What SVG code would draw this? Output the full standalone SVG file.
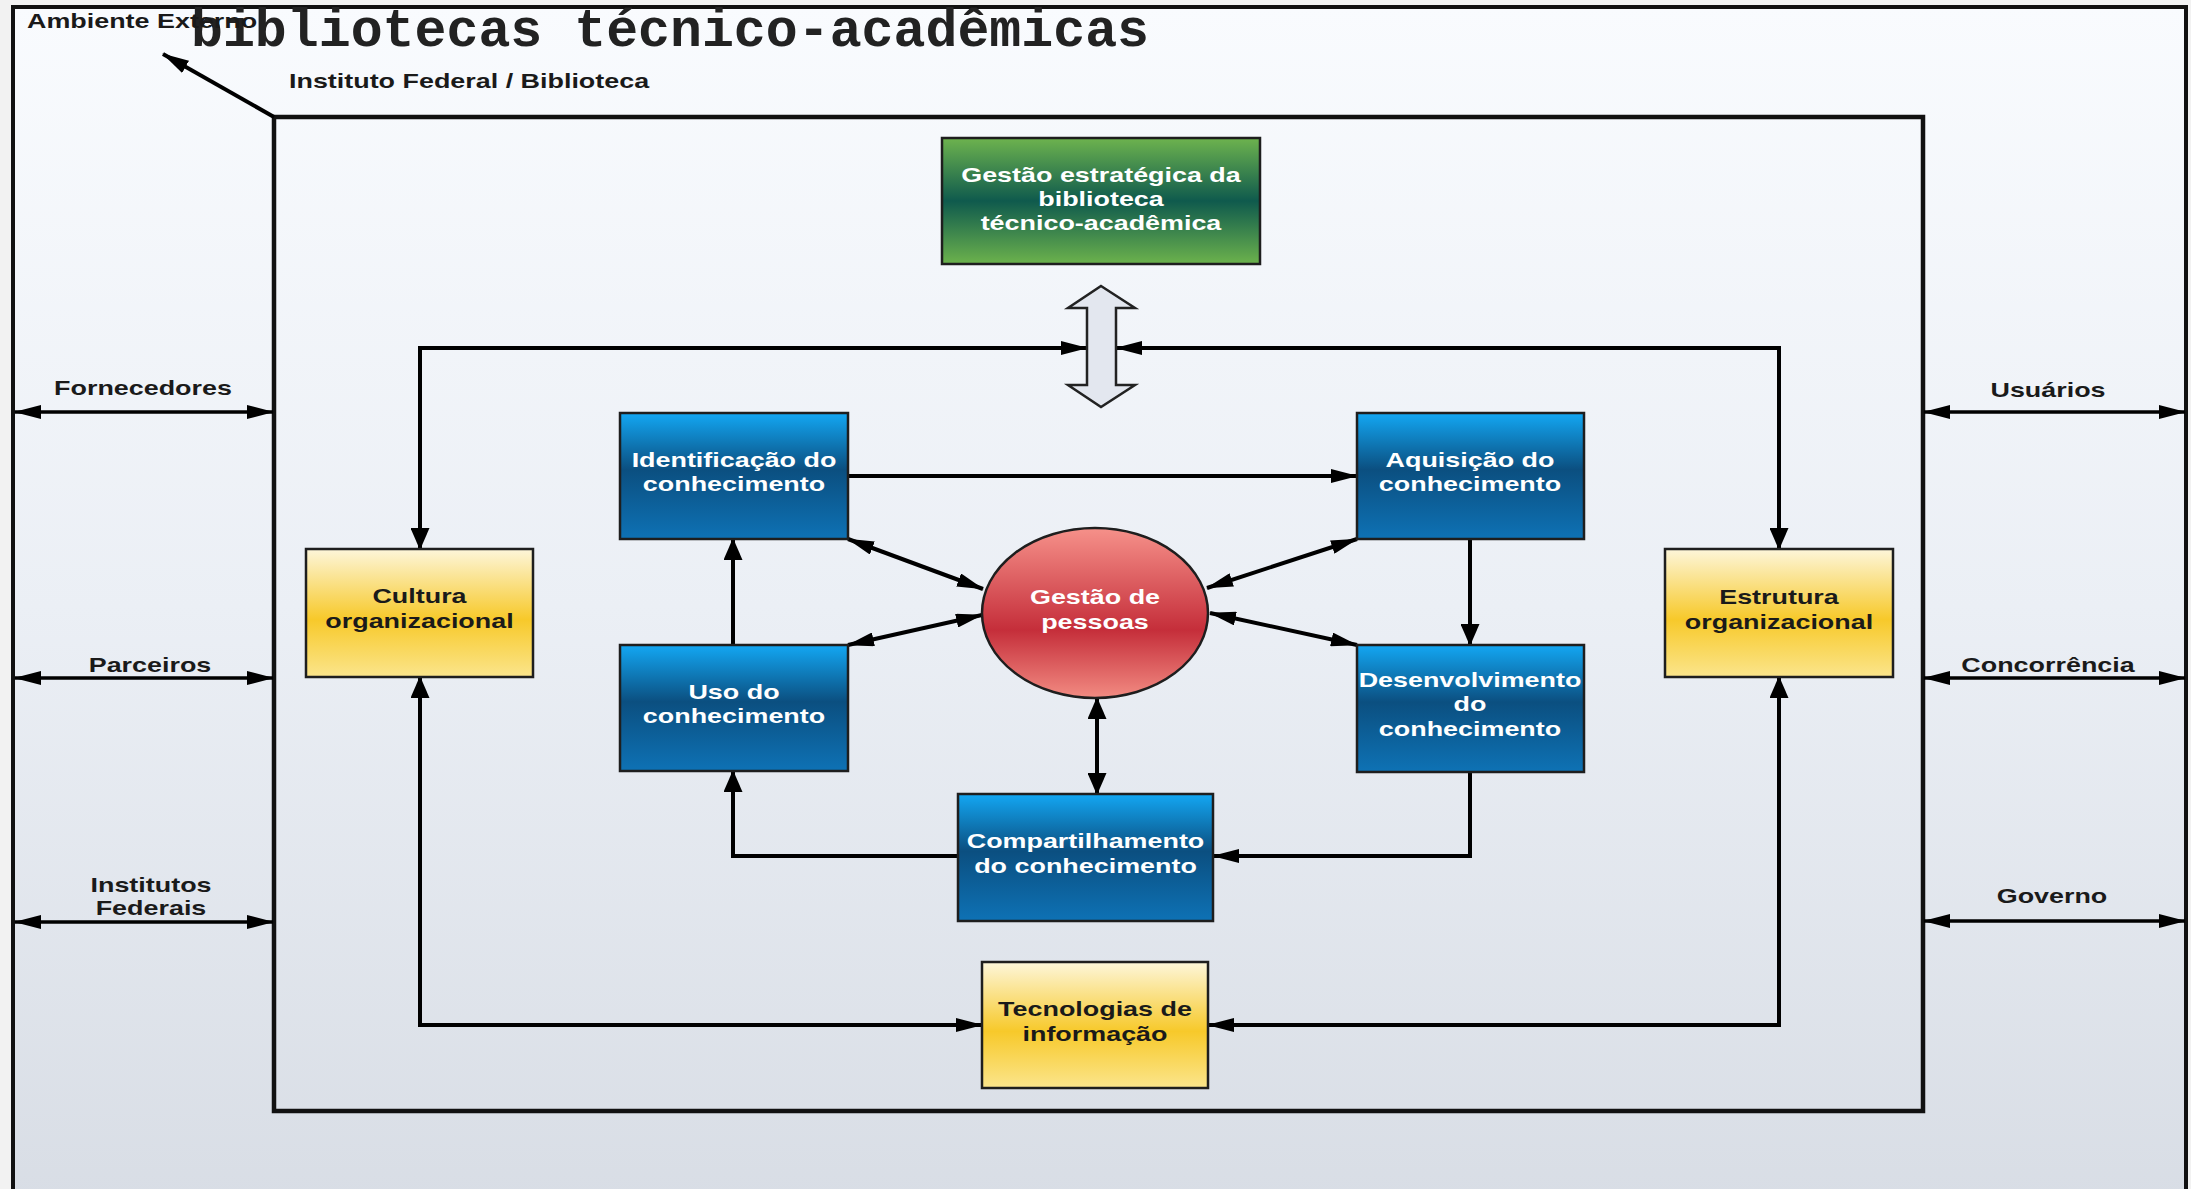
<svg xmlns="http://www.w3.org/2000/svg" width="2191" height="1189" viewBox="0 0 2191 1189">
<defs>
<style>
.t{font-family:"Liberation Sans",Arial,sans-serif;font-weight:bold;font-size:19.5px}
.w{fill:#ffffff}
.d{fill:#1a1a1a}
.box{stroke:#1e1e1e;stroke-width:2.5}
.c{fill:none;stroke:#000;stroke-width:4}
.e{fill:none;stroke:#000;stroke-width:3.5}
</style>
<linearGradient id="bg" x1="0" y1="0" x2="0" y2="1">
<stop offset="0" stop-color="#f9fbfe"/>
<stop offset="0.5" stop-color="#ebeff5"/>
<stop offset="1" stop-color="#d8dde5"/>
</linearGradient>
<linearGradient id="blue" x1="0" y1="0" x2="0" y2="1">
<stop offset="0" stop-color="#13a7f3"/>
<stop offset="0.45" stop-color="#0b4f80"/>
<stop offset="1" stop-color="#0e72b5"/>
</linearGradient>
<linearGradient id="green" x1="0" y1="0" x2="0" y2="1">
<stop offset="0" stop-color="#6db34e"/>
<stop offset="0.5" stop-color="#0f5a4d"/>
<stop offset="1" stop-color="#6cb24c"/>
</linearGradient>
<linearGradient id="yellow" x1="0" y1="0" x2="0" y2="1">
<stop offset="0" stop-color="#fdf6da"/>
<stop offset="0.55" stop-color="#f7c92a"/>
<stop offset="1" stop-color="#fbe58c"/>
</linearGradient>
<linearGradient id="red" x1="0" y1="0" x2="0" y2="1">
<stop offset="0" stop-color="#f6918a"/>
<stop offset="0.6" stop-color="#c52e3a"/>
<stop offset="1" stop-color="#f28b82"/>
</linearGradient>
<marker id="ah" markerWidth="27" markerHeight="14" refX="26" refY="7" orient="auto-start-reverse" markerUnits="userSpaceOnUse">
<path d="M0,0 L27,7 L0,14 Z" fill="#000"/>
</marker>
<marker id="av" markerWidth="22" markerHeight="19" refX="21" refY="9.5" orient="auto-start-reverse" markerUnits="userSpaceOnUse">
<path d="M0,0 L22,9.5 L0,19 Z" fill="#000"/>
</marker>
</defs>

<rect x="0" y="0" width="2191" height="1189" fill="#f2f2f2"/>
<rect x="13" y="7" width="2173" height="1200" fill="url(#bg)" stroke="#111" stroke-width="4"/>

<g id="inner-box">
<rect x="274" y="117" width="1649" height="994" fill="none" stroke="#111" stroke-width="4.5"/>
</g>

<text x="191" y="46" font-family="'Liberation Mono','Courier New',monospace" font-weight="bold" font-size="53" fill="#222" textLength="958" lengthAdjust="spacingAndGlyphs">bibliotecas técnico-acadêmicas</text>

<g id="labels-top">
<text class="t d" transform="translate(27,28) scale(1.38,1)" font-size="18">Ambiente Externo</text>
<text class="t d" transform="translate(289,88) scale(1.38,1)">Instituto Federal / Biblioteca</text>
</g>

<g id="connectors">
<path class="c" d="M274,117 L163,54" marker-end="url(#ah)"/>
<path class="c" d="M420,549 V348 H1087" marker-start="url(#av)" marker-end="url(#ah)"/>
<path class="c" d="M1779,549 V348 H1116" marker-start="url(#av)" marker-end="url(#ah)"/>
<path class="c" d="M420,677 V1025 H982" marker-start="url(#av)" marker-end="url(#ah)"/>
<path class="c" d="M1779,677 V1025 H1208" marker-start="url(#av)" marker-end="url(#ah)"/>
<path class="c" d="M848,476 H1357" marker-end="url(#ah)"/>
<path class="c" d="M1470,539 V645" marker-end="url(#av)"/>
<path class="c" d="M1470,772 V856 H1213" marker-end="url(#ah)"/>
<path class="c" d="M958,856 H733 V771" marker-end="url(#av)"/>
<path class="c" d="M733,645 V539" marker-end="url(#av)"/>
<path class="c" d="M848,539 L983,589" marker-start="url(#ah)" marker-end="url(#ah)"/>
<path class="c" d="M848,645 L982,615" marker-start="url(#ah)" marker-end="url(#ah)"/>
<path class="c" d="M1357,539 L1207,588" marker-start="url(#ah)" marker-end="url(#ah)"/>
<path class="c" d="M1357,645 L1210,613" marker-start="url(#ah)" marker-end="url(#ah)"/>
<path class="c" d="M1097,698 V794" marker-start="url(#av)" marker-end="url(#av)"/>
<path class="e" d="M15,412 H273" marker-start="url(#ah)" marker-end="url(#ah)"/>
<path class="e" d="M15,678 H273" marker-start="url(#ah)" marker-end="url(#ah)"/>
<path class="e" d="M15,922 H273" marker-start="url(#ah)" marker-end="url(#ah)"/>
<path class="e" d="M1924,412 H2185" marker-start="url(#ah)" marker-end="url(#ah)"/>
<path class="e" d="M1924,678 H2185" marker-start="url(#ah)" marker-end="url(#ah)"/>
<path class="e" d="M1924,921 H2185" marker-start="url(#ah)" marker-end="url(#ah)"/>
</g>

<g id="external-labels">
<text class="t d" text-anchor="middle" transform="translate(143,395) scale(1.38,1)">Fornecedores</text>
<text class="t d" text-anchor="middle" transform="translate(150,672) scale(1.38,1)">Parceiros</text>
<text class="t d" text-anchor="middle" transform="translate(151,892) scale(1.38,1)"><tspan x="0" y="0">Institutos</tspan><tspan x="0" y="23">Federais</tspan></text>
<text class="t d" text-anchor="middle" transform="translate(2048,397) scale(1.38,1)">Usuários</text>
<text class="t d" text-anchor="middle" transform="translate(2048,672) scale(1.38,1)">Concorrência</text>
<text class="t d" text-anchor="middle" transform="translate(2052,903) scale(1.38,1)">Governo</text>
</g>

<g id="gestao-estrategica">
<rect class="box" x="942" y="138" width="318" height="126" fill="url(#green)"/>
<text class="t w" text-anchor="middle" transform="translate(1101,182) scale(1.38,1)"><tspan x="0" y="0">Gestão estratégica da</tspan><tspan x="0" y="24">biblioteca</tspan><tspan x="0" y="48">técnico-acadêmica</tspan></text>
</g>

<g id="seta-dupla">
<polygon points="1101,286 1135,308 1116,308 1116,385 1135,385 1101,407 1068,385 1087,385 1087,308 1068,308" fill="#e3e7ef" stroke="#222" stroke-width="2.5" stroke-linejoin="miter"/>
</g>

<g id="identificacao">
<rect class="box" x="620" y="413" width="228" height="126" fill="url(#blue)"/>
<text class="t w" text-anchor="middle" transform="translate(734,467) scale(1.38,1)"><tspan x="0" y="0">Identificação do</tspan><tspan x="0" y="24">conhecimento</tspan></text>
</g>

<g id="aquisicao">
<rect class="box" x="1357" y="413" width="227" height="126" fill="url(#blue)"/>
<text class="t w" text-anchor="middle" transform="translate(1470,467) scale(1.38,1)"><tspan x="0" y="0">Aquisição do</tspan><tspan x="0" y="24">conhecimento</tspan></text>
</g>

<g id="uso">
<rect class="box" x="620" y="645" width="228" height="126" fill="url(#blue)"/>
<text class="t w" text-anchor="middle" transform="translate(734,699) scale(1.38,1)"><tspan x="0" y="0">Uso do</tspan><tspan x="0" y="24">conhecimento</tspan></text>
</g>

<g id="desenvolvimento">
<rect class="box" x="1357" y="645" width="227" height="127" fill="url(#blue)"/>
<text class="t w" text-anchor="middle" transform="translate(1470,687) scale(1.38,1)"><tspan x="0" y="0">Desenvolvimento</tspan><tspan x="0" y="24.5">do</tspan><tspan x="0" y="49">conhecimento</tspan></text>
</g>

<g id="compartilhamento">
<rect class="box" x="958" y="794" width="255" height="127" fill="url(#blue)"/>
<text class="t w" text-anchor="middle" transform="translate(1085.5,848) scale(1.38,1)"><tspan x="0" y="0">Compartilhamento</tspan><tspan x="0" y="25">do conhecimento</tspan></text>
</g>

<g id="gestao-pessoas">
<ellipse cx="1095" cy="613" rx="113" ry="85" fill="url(#red)" stroke="#1e1e1e" stroke-width="2.5"/>
<text class="t w" text-anchor="middle" transform="translate(1095,604) scale(1.38,1)"><tspan x="0" y="0">Gestão de</tspan><tspan x="0" y="25">pessoas</tspan></text>
</g>

<g id="cultura">
<rect class="box" x="306" y="549" width="227" height="128" fill="url(#yellow)"/>
<text class="t d" text-anchor="middle" transform="translate(419.5,603) scale(1.38,1)"><tspan x="0" y="0">Cultura</tspan><tspan x="0" y="25">organizacional</tspan></text>
</g>

<g id="estrutura">
<rect class="box" x="1665" y="549" width="228" height="128" fill="url(#yellow)"/>
<text class="t d" text-anchor="middle" transform="translate(1779,604) scale(1.38,1)"><tspan x="0" y="0">Estrutura</tspan><tspan x="0" y="25">organizacional</tspan></text>
</g>

<g id="tecnologias">
<rect class="box" x="982" y="962" width="226" height="126" fill="url(#yellow)"/>
<text class="t d" text-anchor="middle" transform="translate(1095,1016) scale(1.38,1)"><tspan x="0" y="0">Tecnologias de</tspan><tspan x="0" y="25">informação</tspan></text>
</g>
</svg>
